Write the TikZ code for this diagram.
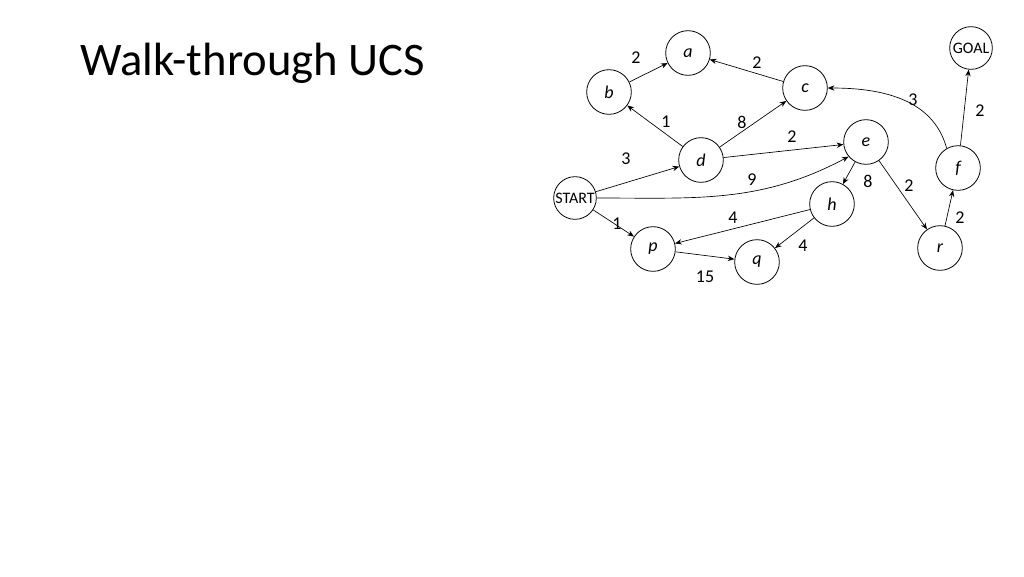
\documentclass[tikz,border=0pt]{standalone}
\usepackage{fontspec}
\setmainfont{Carlito}
\usetikzlibrary{arrows.meta}
\begin{document}
\begin{tikzpicture}[x=0.75pt,y=-0.75pt,
  st/.style={circle,draw,line width=0.6pt,minimum size=33.5pt,inner sep=0pt,font=\fontsize{13.5}{15}\selectfont\itshape},
  nm/.style={circle,draw,line width=0.6pt,minimum size=32pt,inner sep=0pt,font=\fontsize{12}{13}\selectfont},
  ed/.style={line width=0.5pt,-{Stealth[length=5pt,width=4pt]}},
  lb/.style={font=\fontsize{13.5}{15}\selectfont,inner sep=0pt}]
\useasboundingbox (0,0) rectangle (1024,576);
\node[anchor=base west,font=\fontsize{35}{40}\selectfont,inner sep=0pt] (title) at (80,75) {Walk-through UCS};
\node[st] (a) at (688,53) {a};
\node[st] (b) at (609,92) {b};
\node[st] (c) at (805,88) {c};
\node[st] (d) at (701,160) {d};
\node[st] (e) at (866,142) {e};
\node[st] (f) at (958,168) {f};
\node[nm] (goal) at (971,48) {GOAL};
\node[nm] (start) at (575,198) {START};
\node[st] (h) at (832,204) {h};
\node[st] (p) at (653,249) {p};
\node[st] (q) at (757,262) {q};
\node[st] (r) at (940,248) {r};
\draw[ed] (b) -- (a);
\draw[ed] (c) -- (a);
\draw[ed] (d) -- (b);
\draw[ed] (d) -- (c);
\draw[ed] (d) -- (e);
\draw[ed] (f.120) to[out=105,in=0] (c);
\draw[ed] (f) -- (goal);
\draw[ed] (start) -- (d);
\draw[ed] (start.east) to[out=0,in=208] (e.220);
\draw[ed] (start) -- (p);
\draw[ed] (h) -- (p);
\draw[ed] (h) -- (q);
\draw[ed] (p) -- (q);
\draw[ed] (e) -- (h);
\draw[ed] (e) -- (r);
\draw[ed] (r) -- (f);
\node[lb] (l1) at (636,58) {2};
\node[lb] (l2) at (757,63) {2};
\node[lb] (l3) at (666,122) {1};
\node[lb] (l4) at (742,122) {8};
\node[lb] (l5) at (792,137) {2};
\node[lb] (l6) at (913,100) {3};
\node[lb] (l7) at (980,111) {2};
\node[lb] (l8) at (626,159) {3};
\node[lb] (l9) at (752,180) {9};
\node[lb] (l10) at (617,224) {1};
\node[lb] (l11) at (733,218) {4};
\node[lb] (l12) at (803,246) {4};
\node[lb] (l13) at (705,277) {15};
\node[lb] (l14) at (868,181) {8};
\node[lb] (l15) at (909,186) {2};
\node[lb] (l16) at (960,218) {2};
\end{tikzpicture}
\end{document}
